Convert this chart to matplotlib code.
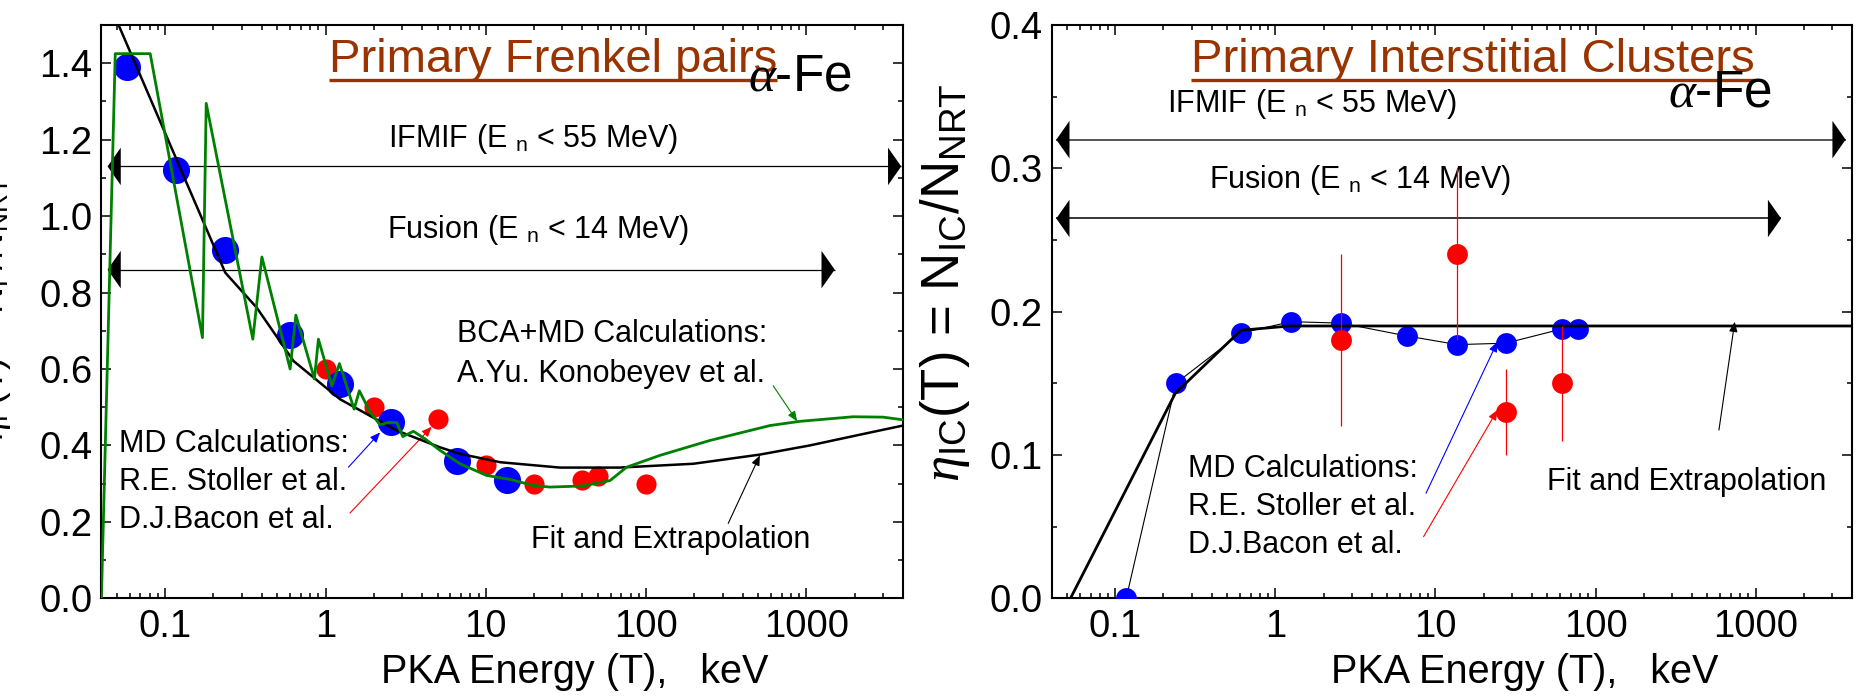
import matplotlib
matplotlib.use("Agg")
import matplotlib.pyplot as plt
from matplotlib.ticker import (FixedLocator, FixedFormatter, LogLocator,
                               NullFormatter, MultipleLocator, FormatStrFormatter)

plt.rcParams['font.family'] = ['Liberation Sans', 'DejaVu Sans']
plt.rcParams['mathtext.fontset'] = 'custom'
plt.rcParams['mathtext.rm'] = 'Liberation Sans'
plt.rcParams['mathtext.sf'] = 'Liberation Sans'
plt.rcParams['mathtext.it'] = 'Liberation Serif:italic'
plt.rcParams['mathtext.bf'] = 'Liberation Sans:bold'

# ---- left panel: primary Frenkel pairs ----
stoller_T_F = [0.058, 0.117, 0.237, 0.60, 1.23, 2.55, 6.6, 13.6]
stoller_F = [1.39, 1.12, 0.91, 0.69, 0.56, 0.46, 0.36, 0.31]
bacon_T_F = [1, 2, 5, 10, 20, 40, 50, 100]
bacon_F = [0.60, 0.50, 0.47, 0.35, 0.30, 0.31, 0.32, 0.30]

fit_T_F = [0.05, 0.237, 0.373, 0.631, 0.841, 1.23, 1.81, 2.78, 5.18, 6.9,
           12.3, 29, 68, 197, 512, 1050, 2150, 4000]
fit_F = [1.51, 0.852, 0.760, 0.621, 0.578, 0.521, 0.482, 0.439, 0.395, 0.378,
         0.356, 0.342, 0.342, 0.352, 0.376, 0.400, 0.428, 0.452]

bca_T = [0.04, 0.0488, 0.0806, 0.1708, 0.1802, 0.352, 0.401, 0.6015, 0.653,
         0.853, 0.903, 1.095, 1.221, 1.507, 1.626, 1.897, 2.188, 2.466, 2.783,
         3.033, 3.533, 4.18, 5.18, 6.9, 10.1, 14.2, 19.8, 25.1, 40.5, 59.5,
         75.5, 122, 250, 592, 910, 1955, 3000, 4000]
bca_F = [0.0, 1.425, 1.425, 0.682, 1.295, 0.678, 0.893, 0.600, 0.741,
         0.574, 0.678, 0.556, 0.614, 0.495, 0.543, 0.487, 0.454, 0.460, 0.460,
         0.423, 0.437, 0.417, 0.387, 0.352, 0.3215, 0.311, 0.295, 0.291, 0.294,
         0.308, 0.343, 0.374, 0.413, 0.452, 0.463, 0.475, 0.474, 0.467]

# ---- right panel: primary interstitial clusters ----
stoller_T_IC = [0.117, 0.239, 0.609, 1.25, 2.58, 6.65, 13.7, 27.5, 62, 78]
stoller_IC = [0.0, 0.150, 0.185, 0.193, 0.192, 0.183, 0.177, 0.178, 0.188, 0.188]
bacon_T_IC = [2.58, 13.7, 27.5, 62]
bacon_IC = [0.18, 0.24, 0.13, 0.15]
bacon_err = [0.06, 0.06, 0.03, 0.04]

fit_T_IC = [0.0525, 0.237, 0.609, 1.23, 4000]
fit_IC = [0.0, 0.143, 0.187, 0.190, 0.190]

xticks = [0.1, 1, 10, 100, 1000]
xtick_labels = ['0.1', '1', '10', '100', '1000']

BROWN = '#993300'
TXT = 22
TICK = 27.5

fig = plt.figure(figsize=(18.61, 6.97), dpi=100)
ax1 = fig.add_axes([0.05449, 0.14161, 0.43073, 0.82253])
ax2 = fig.add_axes([0.56507, 0.14161, 0.43009, 0.82253])


def style_axes(ax, ymax, major, minor):
    ax.set_xscale('log')
    ax.set_xlim(0.04, 4000)
    ax.set_ylim(0, ymax)
    ax.xaxis.set_major_locator(FixedLocator(xticks))
    ax.xaxis.set_major_formatter(FixedFormatter(xtick_labels))
    ax.xaxis.set_minor_locator(LogLocator(base=10, subs=range(2, 10), numticks=20))
    ax.xaxis.set_minor_formatter(NullFormatter())
    ax.yaxis.set_major_locator(MultipleLocator(major))
    ax.yaxis.set_minor_locator(MultipleLocator(minor))
    ax.yaxis.set_major_formatter(FormatStrFormatter('%.1f'))
    ax.tick_params(which='both', direction='in', top=True, right=True,
                   width=1.1, labelsize=TICK)
    ax.tick_params(which='major', length=7.2)
    ax.tick_params(which='minor', length=3.6)
    ax.tick_params(axis='x', pad=8)
    ax.tick_params(axis='y', pad=6.5)
    for s in ax.spines.values():
        s.set_linewidth(1.5)
    ax.set_xlabel('PKA Energy (T),   keV', fontsize=28.5)
    ax.xaxis.set_label_coords(0.591, -0.1477)
    ax.xaxis.label.set_va('baseline')


def range_arrow(ax, x0, x1, y, color, lw, head_color='black'):
    # shaft first, then the two filled heads on top
    ax.plot([x0, x1], [y, y], color=color, lw=lw, solid_capstyle='butt')
    ax.annotate('', xy=(x1, y), xytext=(x0, y),
                arrowprops=dict(arrowstyle='<|-|>,head_length=0.95,head_width=1.35',
                                mutation_scale=10, color=head_color, lw=0,
                                shrinkA=0, shrinkB=0))


def pointer(ax, tail, head, color):
    ax.annotate('', xy=head, xytext=tail,
                arrowprops=dict(arrowstyle='-|>,head_length=0.6,head_width=0.25',
                                mutation_scale=10, color=color, lw=0.8,
                                shrinkA=0, shrinkB=0))


def label(ax, fx, fy, s, size=TXT, color='black'):
    return ax.text(fx, fy, s, transform=ax.transAxes, ha='left',
                   va='baseline', fontsize=size, color=color)


style_axes(ax1, 1.5, 0.2, 0.1)
style_axes(ax2, 0.4, 0.1, 0.05)

# left panel data
ax1.plot(bacon_T_F, bacon_F, 'o', color='red', ms=14.5, mew=0, zorder=2)
ax1.plot(stoller_T_F, stoller_F, 'o', color='blue', ms=19.5, mew=0, zorder=3)
ax1.plot(fit_T_F, fit_F, color='black', lw=1.8, zorder=4)
ax1.plot(bca_T, bca_F, color='#008000', lw=2.0, zorder=5)

range_arrow(ax1, 0.0437, 3900, 1.13, 'black', 0.9)
range_arrow(ax1, 0.0437, 1500, 0.86, 'black', 0.9)

pointer(ax1, (1.39, 0.343), (2.19, 0.434), 'blue')
pointer(ax1, (1.42, 0.223), (4.6, 0.449), 'red')
pointer(ax1, (620, 0.556), (875, 0.463), '#008000')
pointer(ax1, (325, 0.196), (512, 0.374), 'black')

t1 = label(ax1, 0.284, 0.9185, 'Primary Frenkel pairs', 34, BROWN)
label(ax1, 0.807, 0.885, r'$\alpha$-Fe', 37)
label(ax1, 0.358, 0.788, r'IFMIF (E $_{\rm n}$ < 55 MeV)')
label(ax1, 0.356, 0.628, r'Fusion (E $_{\rm n}$ < 14 MeV)')
label(ax1, 0.443, 0.4476, 'BCA+MD Calculations:')
label(ax1, 0.443, 0.378, 'A.Yu. Konobeyev et al.')
label(ax1, 0.0215, 0.2557, 'MD Calculations:')
label(ax1, 0.0215, 0.189, 'R.E. Stoller et al.')
label(ax1, 0.0215, 0.122, 'D.J.Bacon et al.')
label(ax1, 0.5357, 0.0872, 'Fit and Extrapolation')

# right panel data
ax2.plot(stoller_T_IC, stoller_IC, color='black', lw=0.8, zorder=2)
ax2.plot(stoller_T_IC, stoller_IC, 'o', color='blue', ms=15, mew=0, zorder=3)
ax2.plot(fit_T_IC, fit_IC, color='black', lw=2.0, zorder=4)
ax2.errorbar(bacon_T_IC, bacon_IC, yerr=bacon_err, fmt='o', color='red',
             ms=15, mew=0, elinewidth=0.9, capsize=4, capthick=0.9, zorder=5)

range_arrow(ax2, 0.0428, 3650, 0.32, '#555555', 1.4)
range_arrow(ax2, 0.0428, 1443, 0.265, 'black', 1.1)

pointer(ax2, (8.73, 0.0733), (24.4, 0.179), 'blue')
pointer(ax2, (8.43, 0.043), (24.4, 0.1314), 'red')
pointer(ax2, (590, 0.1174), (741, 0.193), 'black')

t2 = label(ax2, 0.174, 0.9185, 'Primary Interstitial Clusters', 34, BROWN)
label(ax2, 0.770, 0.8587, r'$\alpha$-Fe', 37)
label(ax2, 0.144, 0.8488, r'IFMIF (E $_{\rm n}$ < 55 MeV)')
label(ax2, 0.1964, 0.7152, r'Fusion (E $_{\rm n}$ < 14 MeV)')
label(ax2, 0.1708, 0.2121, 'MD Calculations:')
label(ax2, 0.1708, 0.1453, 'R.E. Stoller et al.')
label(ax2, 0.1708, 0.0785, 'D.J.Bacon et al.')
label(ax2, 0.6187, 0.189, 'Fit and Extrapolation')

# y labels (left one runs off the figure edge as in the original)
fig.text(13 / 1861, 1 - 308 / 697,
         r'$\eta_{\rm F}$(T) = N$_{\rm F}$/N$_{\rm NRT}$',
         rotation=90, ha='right', va='center', fontsize=27)
fig.text(972 / 1861, 1 - 283 / 697,
         r'$\eta_{\rm IC}$(T) = N$_{\rm IC}$/N$_{\rm NRT}$',
         rotation=90, ha='right', va='center', fontsize=38)

# underline the panel titles
fig.canvas.draw()
for ax, t in ((ax1, t1), (ax2, t2)):
    bb = t.get_window_extent().transformed(ax.transAxes.inverted())
    ax.plot([bb.x0, bb.x1], [0.904, 0.904], color=BROWN, lw=2.4,
            transform=ax.transAxes, clip_on=False, solid_capstyle='butt')

fig.savefig('out.png', dpi=100)
